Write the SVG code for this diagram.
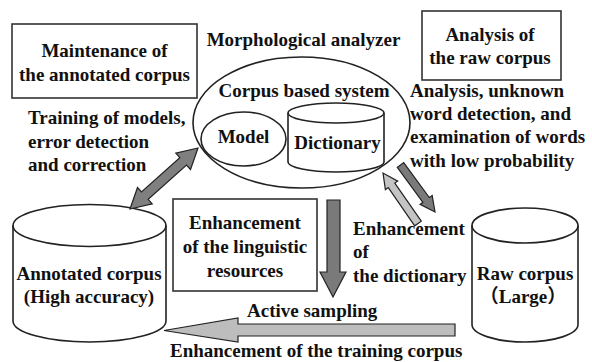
<svg xmlns="http://www.w3.org/2000/svg" width="592" height="362" viewBox="0 0 592 362">
<style>
text{font-weight:bold;font-size:19px;fill:#111}
.m{text-anchor:middle}
.box{fill:#fff;stroke:#333;stroke-width:1.6}
.sh{fill:#fff;stroke:#222;stroke-width:1.6}
.ln{fill:none;stroke:#222;stroke-width:1.6}
.ar{stroke:#222;stroke-width:1.2;stroke-linejoin:miter}
</style>
<rect width="592" height="362" fill="#fff"/>
<g font-family="'Liberation Serif', 'DejaVu Serif', serif">

<g id="maintenance">
<rect class="box" x="12" y="24" width="185" height="74"/>
<text class="m" x="104.5" y="57">Maintenance of</text>
<text class="m" x="104.5" y="81">the annotated corpus</text>
</g>

<g id="analysis-box">
<rect class="box" x="422" y="11" width="139" height="69"/>
<text class="m" x="490" y="41">Analysis of</text>
<text class="m" x="490" y="64">the raw corpus</text>
</g>

<g id="analyzer">
<text class="m" x="303.5" y="46">Morphological analyzer</text>
<ellipse class="sh" cx="301.5" cy="122.5" rx="108.5" ry="65.5"/>
<text class="m" x="304" y="97">Corpus based system</text>
</g>

<g id="model">
<ellipse class="sh" cx="243.5" cy="139" rx="42.5" ry="27"/>
<text class="m" x="243.5" y="143">Model</text>
</g>

<g id="dictionary">
<path class="sh" d="M288,113 V162 A48,10 0 0 0 384,162 V113 A48,10 0 0 0 288,113 Z"/>
<path class="ln" d="M288,113 A48,10 0 0 0 384,113"/>
<text class="m" x="337.5" y="149">Dictionary</text>
</g>

<g id="annotated-corpus">
<path class="sh" d="M13,225.5 V321 A76.5,21 0 0 0 166,321 V225.5 A76.5,21 0 0 0 13,225.5 Z"/>
<path class="ln" d="M13,225.5 A76.5,21 0 0 0 166,225.5"/>
<text class="m" x="89" y="280">Annotated corpus</text>
<text class="m" x="89" y="303">(High accuracy)</text>
</g>

<g id="raw-corpus">
<path class="sh" d="M472,225.5 V324.5 A53,17.5 0 0 0 578,324.5 V225.5 A53,17.5 0 0 0 472,225.5 Z"/>
<path class="ln" d="M472,225.5 A53,17.5 0 0 0 578,225.5"/>
<text class="m" x="525" y="280">Raw corpus</text>
<text class="m" x="523" y="303" font-family="'Liberation Serif', 'Noto Sans CJK JP', serif">（Large）</text>
</g>

<g id="linguistic-resources">
<rect class="box" x="173" y="199" width="144" height="92"/>
<text class="m" x="245" y="229">Enhancement</text>
<text class="m" x="245" y="253">of the linguistic</text>
<text class="m" x="245" y="277">resources</text>
</g>

<g id="labels">
<text x="28" y="124">Training of models,</text>
<text x="28" y="148">error detection</text>
<text x="28" y="171">and correction</text>
<text x="410" y="97">Analysis, unknown</text>
<text x="410" y="120">word detection, and</text>
<text x="410" y="143">examination of words</text>
<text x="410" y="167">with low probability</text>
<text x="353" y="235">Enhancement</text>
<text x="353" y="258">of</text>
<text x="353" y="282">the dictionary</text>
<text x="247" y="317">Active sampling</text>
<text x="170" y="357">Enhancement of the training corpus</text>
</g>
</g>

<g id="connectors">
<polygon class="ar" fill="#7f7f7f" points="130,209 152.2,203.8 148.2,199.4 186.5,165.1 190.5,169.5 198,148 175.8,153.2 179.8,157.6 141.5,191.9 137.5,187.5"/>
<polygon class="ar" fill="#7a7a7a" points="327,200 340,200 340,272 346,272 333,297 320,272 327,272"/>
<polygon class="ar" fill="#7a7a7a" points="403.7,162.6 429.3,197.5 432.2,195.5 435,212 420.1,204.4 422.9,202.3 397.3,167.4"/>
<polygon class="ar" fill="#c4c4c4" points="421.3,221.2 394.8,183.1 397.7,181.1 383,173 385.4,189.6 388.3,187.6 414.7,225.8"/>
<polygon class="ar" fill="#bdbdbd" points="455,324 238,324 238,318 164,330.5 238,342 238,336 455,336"/>
</g>
</svg>
